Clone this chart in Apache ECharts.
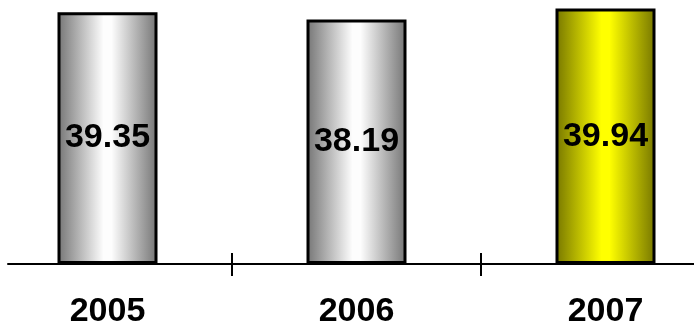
<!DOCTYPE html>
<html>
<head>
<meta charset="utf-8">
<script src="https://cdn.jsdelivr.net/npm/echarts@6/dist/echarts.min.js"></script>
<style>
  html, body { margin: 0; padding: 0; background: #ffffff; }
  #chart { width: 694px; height: 331px; }
</style>
</head>
<body>
<div id="chart"></div>
<script>
// Yearly values shown as cylinder-shaded bars
const years = ['2005', '2006', '2007'];
const values = [39.35, 38.19, 39.94];
const highlighted = [false, false, true];

const FONT = '"Liberation Sans", Arial, sans-serif';

function shade(edge, mid) {
  return new echarts.graphic.LinearGradient(0, 0, 1, 0, [
    { offset: 0, color: edge },
    { offset: 0.46, color: mid },
    { offset: 0.54, color: mid },
    { offset: 1, color: edge }
  ]);
}

const grey = shade('#747474', '#fdfdfd');
const yellow = shade('#767600', '#ffff00');

const chart = echarts.init(document.getElementById('chart'), null, { renderer: 'canvas' });

chart.setOption({
  animation: false,
  backgroundColor: '#ffffff',
  grid: [
    { left: -17, right: -36, top: 8, bottom: 67, outerBoundsMode: 'none', containLabel: false },
    { left: 8, right: 0, top: 8, bottom: 67, outerBoundsMode: 'none', containLabel: false }
  ],
  xAxis: [
    {
      type: 'category',
      gridIndex: 0,
      data: years,
      axisLine: { show: false },
      axisTick: { show: true, length: 12, lineStyle: { color: '#000', width: 2 } },
      axisLabel: {
        margin: 31,
        color: '#000',
        fontFamily: FONT,
        fontWeight: 'bold',
        fontSize: 34
      }
    },
    {
      type: 'category',
      gridIndex: 0,
      position: 'bottom',
      data: years,
      axisLine: { show: false },
      axisTick: { show: true, inside: true, length: 11, lineStyle: { color: '#000', width: 2 } },
      axisLabel: { show: false }
    },
    {
      type: 'category',
      gridIndex: 1,
      data: years,
      axisLine: { show: true, lineStyle: { color: '#000', width: 2 } },
      axisTick: { show: false },
      axisLabel: { show: false }
    }
  ],
  yAxis: [
    { type: 'value', gridIndex: 0, min: 0, max: 40, show: false, splitLine: { show: false } },
    { type: 'value', gridIndex: 1, min: 0, max: 40, show: false, splitLine: { show: false } }
  ],
  series: [
    {
      type: 'bar',
      xAxisIndex: 0,
      yAxisIndex: 0,
      barWidth: 100,
      data: values.map((v, i) => ({
        value: v,
        itemStyle: {
          color: highlighted[i] ? yellow : grey,
          borderColor: '#000',
          borderWidth: 3
        }
      })),
      label: {
        show: true,
        position: 'inside',
        color: '#000',
        fontFamily: FONT,
        fontWeight: 'bold',
        fontSize: 34,
        formatter: p => p.value.toFixed(2)
      }
    }
  ]
});
</script>
</body>
</html>
